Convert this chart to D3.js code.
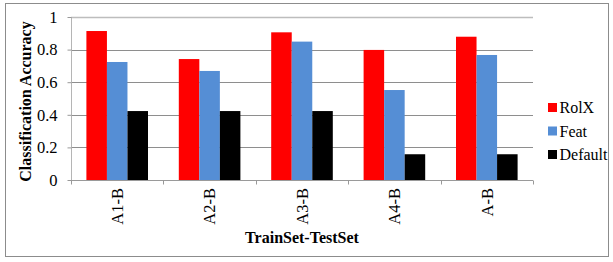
<!DOCTYPE html>
<html>
<head>
<meta charset="utf-8">
<script src="https://cdn.jsdelivr.net/npm/d3@7"></script>
<style>
  body { margin: 0; background: #fff; }
  svg text { font-family: 'Liberation Serif', 'Times New Roman', Times, 'DejaVu Serif', serif; }
</style>
</head>
<body>
<div id="chart"></div>
<script>
const categories = ['A1-B', 'A2-B', 'A3-B', 'A4-B', 'A-B'];
const seriesNames = ['RolX', 'Feat', 'Default'];
const rolx = [0.914, 0.742, 0.906, 0.798, 0.879];
const feat = [0.724, 0.669, 0.849, 0.552, 0.767];
const defaults = [0.423, 0.423, 0.423, 0.158, 0.158];
const yTicks = [0, 0.2, 0.4, 0.6, 0.8, 1];
const colors = ['#ff0000', '#558ed5', '#000000'];

const fontFamily = "'Liberation Serif', 'Times New Roman', Times, 'DejaVu Serif', serif";
const fullWidth = 613;
const fullHeight = 262;
const plot = { left: 71, right: 533, top: 17, bottom: 180 };

const series = [rolx, feat, defaults];
const dataset = [];
categories.forEach((c, i) => {
  seriesNames.forEach((s, j) => {
    dataset.push({ cat: c, name: s, value: series[j][i] });
  });
});

const svg = d3.select('#chart')
  .append('svg')
  .attr('width', fullWidth)
  .attr('height', fullHeight)
  .attr('font-family', fontFamily);

// outer frame
svg.append('rect')
  .attr('x', 5.5)
  .attr('y', 3.5)
  .attr('width', 603)
  .attr('height', 253)
  .attr('fill', 'none')
  .attr('stroke', '#8c8c8c')
  .attr('stroke-width', 1);

const xScale = d3.scaleBand()
  .domain(categories)
  .range([plot.left, plot.right])
  .paddingInner(0)
  .paddingOuter(0);

const xInner = d3.scaleBand()
  .domain(seriesNames)
  .range([0, xScale.bandwidth()])
  .paddingOuter(0.75);

const yScale = d3.scaleLinear()
  .domain([0, 1])
  .range([plot.bottom, plot.top]);

// gridlines
svg.append('g')
  .selectAll('line')
  .data(yTicks.filter(d => d > 0))
  .enter()
  .append('line')
  .attr('x1', plot.left)
  .attr('x2', plot.right)
  .attr('y1', d => Math.round(yScale(d)) + 0.5)
  .attr('y2', d => Math.round(yScale(d)) + 0.5)
  .attr('stroke', d => d === 1 ? '#bdbdbd' : '#8e8e8e')
  .attr('stroke-width', d => d === 1 ? 1.5 : 1);

// bars
svg.append('g')
  .selectAll('rect')
  .data(dataset)
  .enter()
  .append('rect')
  .attr('x', d => xScale(d.cat) + xInner(d.name))
  .attr('y', d => yScale(d.value))
  .attr('width', xInner.bandwidth())
  .attr('height', d => plot.bottom - yScale(d.value))
  .attr('fill', d => colors[seriesNames.indexOf(d.name)]);

// y axis
const yAxis = d3.axisLeft(yScale)
  .tickValues(yTicks)
  .tickFormat(d => d === 0 ? '0' : d === 1 ? '1' : d3.format('.1f')(d))
  .tickSize(4)
  .tickPadding(10);

const yG = svg.append('g')
  .attr('transform', `translate(${plot.left + 0.5}, 0)`)
  .call(yAxis)
  .attr('font-family', fontFamily);
yG.select('.domain').attr('stroke', '#b5b5b5').attr('d', `M0,${plot.top}V${plot.bottom}`);
yG.selectAll('.tick line').attr('stroke', '#999');
yG.selectAll('.tick text')
  .attr('fill', '#000')
  .attr('font-size', 16.5);

// x axis
const xAxis = d3.axisBottom(xScale)
  .tickSize(0)
  .tickPadding(8);

const xG = svg.append('g')
  .attr('transform', `translate(0, ${plot.bottom + 0.5})`)
  .call(xAxis)
  .attr('font-family', fontFamily);
xG.select('.domain').attr('stroke', '#9a9a9a').attr('d', `M${plot.left},0H${plot.right}`);
xG.selectAll('.tick text')
  .attr('fill', '#000')
  .attr('transform', 'rotate(-90)')
  .attr('x', -7.5)
  .attr('y', 0)
  .attr('dy', '0.35em')
  .attr('text-anchor', 'end')
  .attr('font-size', 16.5);

// category separator ticks
xG.append('g')
  .selectAll('line')
  .data(categories.concat(['end']))
  .enter()
  .append('line')
  .attr('x1', (d, i) => Math.round(plot.left + i * xScale.bandwidth()) + 0.5)
  .attr('x2', (d, i) => Math.round(plot.left + i * xScale.bandwidth()) + 0.5)
  .attr('y1', 0)
  .attr('y2', 4)
  .attr('stroke', '#999');

// axis titles
svg.append('text')
  .attr('transform', `translate(31, ${(plot.top + plot.bottom) / 2 + 3}) rotate(-90)`)
  .attr('text-anchor', 'middle')
  .attr('font-size', 16)
  .attr('font-weight', 'bold')
  .text('Classification Accuracy');

svg.append('text')
  .attr('x', 302)
  .attr('y', 243)
  .attr('text-anchor', 'middle')
  .attr('font-size', 16)
  .attr('font-weight', 'bold')
  .text('TrainSet-TestSet');

// legend
const legend = svg.append('g')
  .attr('transform', 'translate(548, 103)');

legend.selectAll('rect')
  .data(seriesNames)
  .enter()
  .append('rect')
  .attr('x', 0)
  .attr('y', (d, i) => i * 23.5)
  .attr('width', 9)
  .attr('height', 9)
  .attr('fill', (d, i) => colors[i]);

legend.selectAll('text')
  .data(seriesNames)
  .enter()
  .append('text')
  .attr('x', 11.5)
  .attr('y', (d, i) => i * 23.5 + 10)
  .attr('font-size', 16)
  .text(d => d);
</script>
</body>
</html>
